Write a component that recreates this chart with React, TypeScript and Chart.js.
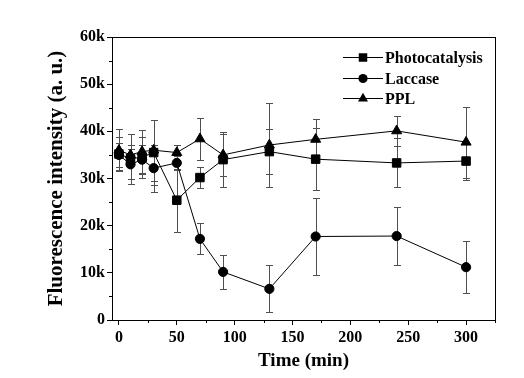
import React, { useEffect, useRef } from 'react';
import { Chart, registerables } from 'chart.js';

Chart.register(...registerables);

// ---- Data (values in thousands of a.u.) ----
const times = [0, 10, 20, 30, 50, 70, 90, 130, 170, 240, 300];
const photocatalysis = [35.2, 34.2, 34.5, 35.5, 25.4, 30.2, 34.0, 35.7, 34.1, 33.3, 33.7];
const photocatalysisErr = [3.5, 5.3, 4.3, 6.9, 6.7, 2.2, 5.8, 4.8, 6.6, 5.2, 4.0];
const laccase = [35.0, 33.0, 34.0, 32.2, 33.3, 17.2, 10.2, 6.6, 17.7, 17.8, 11.2];
const laccaseErr = [2.5, 3.2, 3.0, 5.0, 1.5, 3.3, 3.6, 5.0, 8.2, 6.2, 5.5];
const ppl = [36.0, 35.0, 35.7, 36.0, 35.5, 38.4, 35.0, 37.1, 38.3, 40.1, 37.7];
const pplErr = [4.4, 2.0, 4.6, 6.5, 1.5, 4.5, 4.5, 9.0, 4.4, 3.2, 7.5];

const seriesNames = ['Photocatalysis', 'Laccase', 'PPL'];
const xTicks = [0, 50, 100, 150, 200, 250, 300];
const xMinorTicks = [25, 75, 125, 175, 225, 275, 325];
const yTicks = [0, 10, 20, 30, 40, 50, 60];
const yTickLabels = ['0', '10k', '20k', '30k', '40k', '50k', '60k'];
const yMinorTicks = [5, 15, 25, 35, 45, 55];

const FONT = "'Liberation Serif', 'Times New Roman', serif";

function drawMarker(ctx: CanvasRenderingContext2D, style: string, x: number, y: number, r: number) {
  ctx.beginPath();
  if (style === 'rect') {
    const s = Math.SQRT1_2 * r;
    ctx.rect(x - s, y - s, 2 * s, 2 * s);
  } else if (style === 'triangle') {
    ctx.moveTo(x, y - r);
    ctx.lineTo(x + 0.866 * r, y + 0.5 * r);
    ctx.lineTo(x - 0.866 * r, y + 0.5 * r);
    ctx.closePath();
  } else {
    ctx.arc(x, y, r, 0, Math.PI * 2);
  }
  ctx.fill();
}

const errors = [photocatalysisErr, laccaseErr, pplErr];
const values = [photocatalysis, laccase, ppl];

const customPlugin = {
  id: 'custom',
  beforeDatasetsDraw(chart: any) {
    const ctx = chart.ctx as CanvasRenderingContext2D;
    const xs = chart.scales.x;
    const ys = chart.scales.y;
    ctx.save();
    ctx.strokeStyle = '#505050';
    ctx.lineWidth = 1;
    values.forEach((vals, si) => {
      vals.forEach((v, i) => {
        const e = errors[si][i];
        const px = Math.round(xs.getPixelForValue(times[i])) + 0.5;
        const top = Math.round(ys.getPixelForValue(v + e)) + 0.5;
        const bot = Math.round(ys.getPixelForValue(v - e)) + 0.5;
        ctx.beginPath();
        ctx.moveTo(px, top);
        ctx.lineTo(px, bot);
        ctx.moveTo(px - 3.5, top);
        ctx.lineTo(px + 3.5, top);
        ctx.moveTo(px - 3.5, bot);
        ctx.lineTo(px + 3.5, bot);
        ctx.stroke();
      });
    });
    ctx.restore();
  },
  afterDraw(chart: any) {
    const ctx = chart.ctx as CanvasRenderingContext2D;
    const a = chart.chartArea;
    const xs = chart.scales.x;
    const ys = chart.scales.y;
    ctx.save();
    ctx.strokeStyle = '#000';
    ctx.lineWidth = 1;
    // frame
    ctx.strokeRect(Math.round(a.left) + 0.5, Math.round(a.top) + 0.5, Math.round(a.right - a.left), Math.round(a.bottom - a.top));
    // minor ticks
    ctx.beginPath();
    xMinorTicks.forEach((v) => {
      const px = Math.round(xs.getPixelForValue(v)) + 0.5;
      ctx.moveTo(px, a.bottom);
      ctx.lineTo(px, a.bottom + 3);
    });
    yMinorTicks.forEach((v) => {
      const py = Math.round(ys.getPixelForValue(v)) + 0.5;
      ctx.moveTo(a.left, py);
      ctx.lineTo(a.left - 3, py);
    });
    ctx.stroke();
    // legend
    const lx0 = a.right - 152;
    const lx1 = a.right - 112;
    const lmx = (lx0 + lx1) / 2;
    ctx.font = `bold 16px ${FONT}`;
    ctx.textBaseline = 'middle';
    ctx.textAlign = 'left';
    chart.data.datasets.forEach((ds: any, i: number) => {
      const y = Math.round(a.top + 20 + i * 20.5) + 0.5;
      ctx.strokeStyle = '#000';
      ctx.beginPath();
      ctx.moveTo(lx0, y);
      ctx.lineTo(lx1, y);
      ctx.stroke();
      ctx.fillStyle = '#000';
      drawMarker(ctx, ds.pointStyle, lmx, y, ds.pointRadius);
      ctx.fillText(ds.label, lx1 + 2, y + 1);
    });
    ctx.restore();
  },
};

export default function App() {
  const ref = useRef<HTMLCanvasElement>(null);
  useEffect(() => {
    const canvas = ref.current!;
    const styles = ['rect', 'circle', 'triangle'];
    const radii = [6, 4.6, 5.8];
    const chart = new Chart(canvas, {
      type: 'line',
      data: {
        datasets: values.map((vals, si) => ({
          label: seriesNames[si],
          data: vals.map((v, i) => ({ x: times[i], y: v })),
          borderColor: '#000',
          borderWidth: 1,
          backgroundColor: '#000',
          pointBackgroundColor: '#000',
          pointBorderColor: '#000',
          pointBorderWidth: 1,
          pointStyle: styles[si] as any,
          pointRadius: radii[si],
          tension: 0,
          fill: false,
        })),
      },
      options: {
        responsive: false,
        animation: false,
        devicePixelRatio: 1,
        layout: { padding: { left: 0, top: 37, right: 29, bottom: 0 } },
        plugins: { legend: { display: false }, tooltip: { enabled: false } },
        scales: {
          x: {
            type: 'linear',
            min: -6,
            max: 325,
            afterBuildTicks: (s: any) => {
              s.ticks = xTicks.map((v) => ({ value: v }));
            },
            afterFit: (s: any) => {
              s.height = 58;
            },
            ticks: {
              color: '#000',
              font: { family: FONT, size: 16, weight: 'bold' },
              padding: 3,
              maxRotation: 0,
              autoSkip: false,
            },
            grid: { drawOnChartArea: false, tickLength: 5, color: '#000' },
            border: { color: '#000', width: 1 },
            title: {
              display: true,
              text: 'Time (min)',
              color: '#000',
              font: { family: FONT, size: 19, weight: 'bold' },
              padding: { top: 0, bottom: 6 },
            },
          },
          y: {
            type: 'linear',
            min: 0,
            max: 60,
            afterBuildTicks: (s: any) => {
              s.ticks = yTicks.map((v) => ({ value: v }));
            },
            afterFit: (s: any) => {
              s.width = 112;
            },
            ticks: {
              color: '#000',
              font: { family: FONT, size: 16, weight: 'bold' },
              padding: 2,
              autoSkip: false,
              callback: (v: any) => yTickLabels[yTicks.indexOf(Number(v))] ?? '',
            },
            grid: { drawOnChartArea: false, tickLength: 5, color: '#000' },
            border: { color: '#000', width: 1 },
            title: {
              display: true,
              text: 'Fluorescence intensity (a. u.)',
              color: '#000',
              font: { family: FONT, size: 21, weight: 'bold' },
              padding: { top: 44, bottom: 0 },
            },
          },
        },
      },
      plugins: [customPlugin],
    });
    return () => chart.destroy();
  }, []);
  return (
    <div style={{ position: 'fixed', left: 0, top: 0, width: 524, height: 378, background: '#fff' }}>
      <canvas ref={ref} width={524} height={378} style={{ display: 'block', width: 524, height: 378 }} />
    </div>
  );
}
